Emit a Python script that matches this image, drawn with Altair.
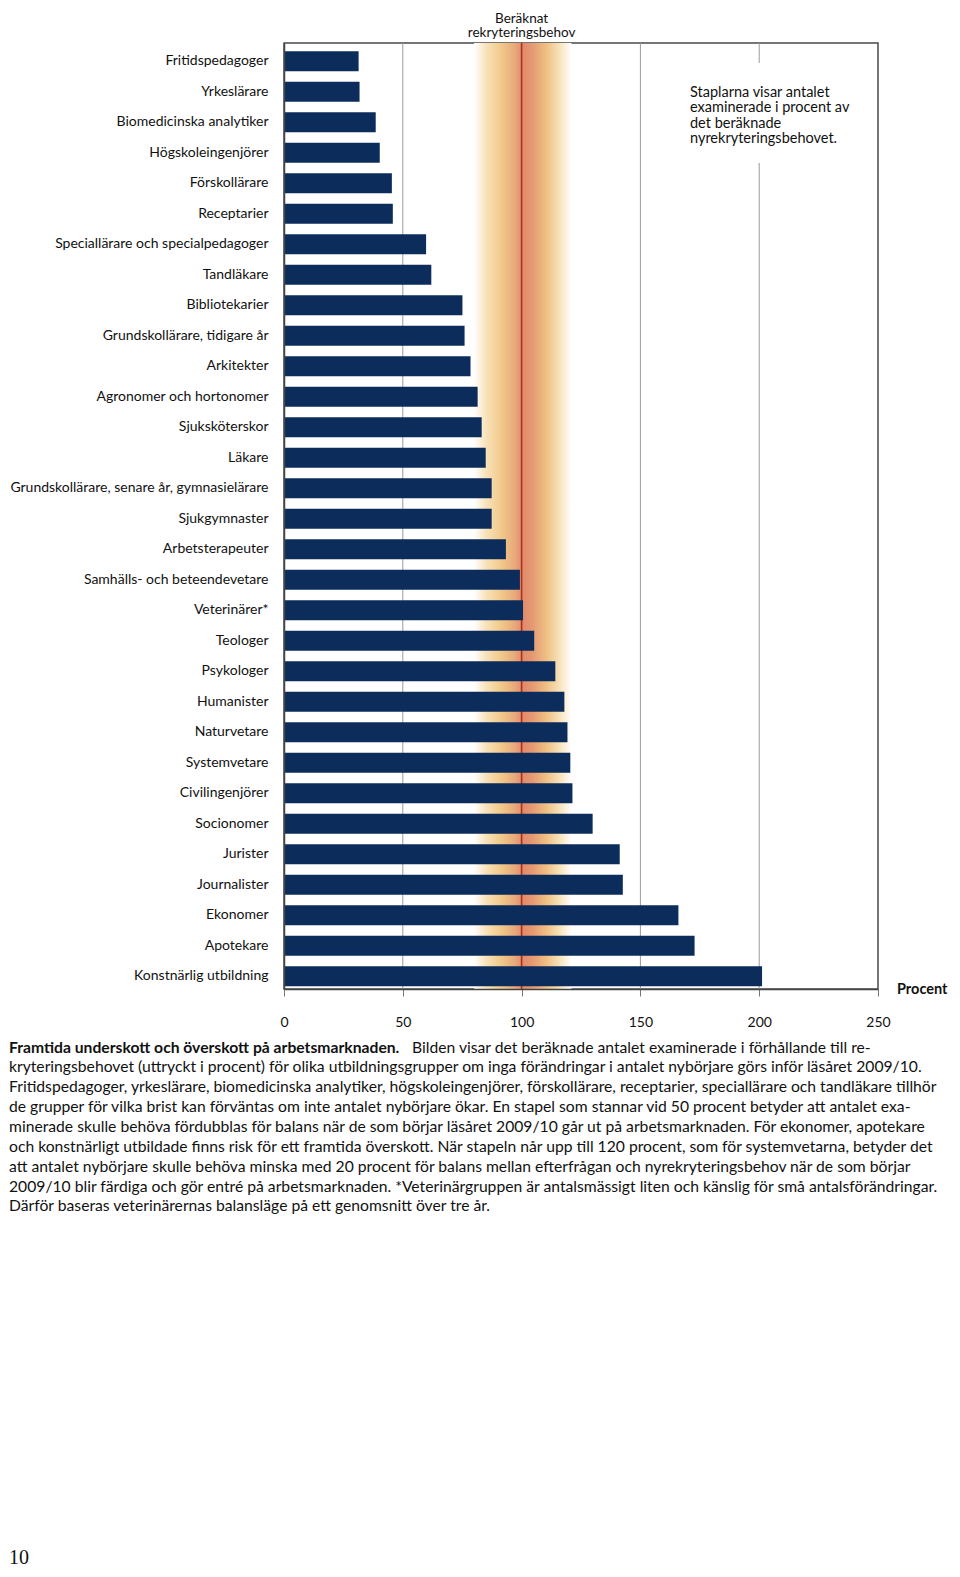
import altair as alt
import pandas as pd

kategorier = [
    "Fritidspedagoger", "Yrkeslärare", "Biomedicinska analytiker", "Högskoleingenjörer",
    "Förskollärare", "Receptarier", "Speciallärare och specialpedagoger", "Tandläkare",
    "Bibliotekarier", "Grundskollärare, tidigare år", "Arkitekter", "Agronomer och hortonomer",
    "Sjuksköterskor", "Läkare", "Grundskollärare, senare år,  gymnasielärare", "Sjukgymnaster",
    "Arbetsterapeuter", "Samhälls- och beteendevetare", "Veterinärer*", "Teologer",
    "Psykologer", "Humanister", "Naturvetare", "Systemvetare", "Civilingenjörer",
    "Socionomer", "Jurister", "Journalister", "Ekonomer", "Apotekare", "Konstnärlig utbildning",
]
procent = [
    31.4, 31.8, 38.6, 40.3, 45.4, 45.8, 59.8, 62.0, 75.1, 76.0, 78.5, 81.5, 83.2, 84.9,
    87.4, 87.4, 93.4, 99.3, 100.6, 105.3, 114.2, 118.0, 119.3, 120.5, 121.4, 129.9,
    141.3, 142.6, 166.0, 172.8, 201.2,
]
x_ticks = [0, 50, 100, 150, 200, 250]
stodlinjer = [50, 150, 200]
behov = [100]
band_fran = [80]
band_till = [121]

rubrik = ["Beräknat", "rekryteringsbehov"]
notis = ["Staplarna visar antalet", "examinerade i procent av", "det beräknade", "nyrekryteringsbehovet."]
enhet = "Procent"
bildtext_fet = "Framtida underskott och överskott på arbetsmarknaden."
bildtext_rad1 = "Bilden visar det beräknade antalet examinerade i förhållande till re-"
bildtext = [
    "kryteringsbehovet (uttryckt i procent) för olika utbildningsgrupper om inga förändringar i antalet nybörjare görs inför läsåret 2009/10.",
    "Fritidspedagoger, yrkeslärare, biomedicinska analytiker, högskoleingenjörer, förskollärare, receptarier, speciallärare och tandläkare tillhör",
    "de grupper för vilka brist kan förväntas om inte antalet nybörjare ökar. En stapel som stannar vid 50 procent betyder att antalet exa-",
    "minerade skulle behöva fördubblas för balans när de som börjar läsåret 2009/10 går ut på arbetsmarknaden. För ekonomer, apotekare",
    "och konstnärligt utbildade finns risk för ett framtida överskott. När stapeln når upp till 120 procent, som för systemvetarna, betyder det",
    "att antalet nybörjare skulle behöva minska med 20 procent för balans mellan efterfrågan och nyrekryteringsbehov när de som börjar",
    "2009/10 blir färdiga och gör entré på arbetsmarknaden. *Veterinärgruppen är antalsmässigt liten och känslig för små antalsförändringar.",
    "Därför baseras veterinärernas balansläge på ett genomsnitt över tre år.",
]
sidnummer = "10"

FONT = "Lato"
W, H = 594, 946
df = pd.DataFrame({"kategori": kategorier, "procent": procent})
dummy = pd.DataFrame({"d": [0]})

x_scale = alt.Scale(domain=[0, 250], nice=False, zero=True)
x_axis = alt.Axis(values=x_ticks, title=None, grid=False, labelFont=FONT, labelFontSize=14,
                  labelColor="#111111", labelPadding=19, tickSize=7, tickColor="#777777",
                  domainColor="#444444", domainWidth=1.5, zindex=1, labelFlush=False)
y_axis = alt.Axis(title=None, labelFont=FONT, labelFontSize=14, labelColor="#111111",
                  labelPadding=16, ticks=False, domainColor="#444444", domainWidth=1.5,
                  zindex=1, labelLimit=400)

gradient = alt.Gradient(
    gradient="linear", x1=0, x2=1, y1=0, y2=0,
    stops=[
        alt.GradientStop(color="#ffffff", offset=0.0),
        alt.GradientStop(color="#f8e3bb", offset=0.12),
        alt.GradientStop(color="#f1cb8c", offset=0.27),
        alt.GradientStop(color="#e8a97a", offset=0.42),
        alt.GradientStop(color="#e28a6c", offset=0.5),
        alt.GradientStop(color="#e59a72", offset=0.6),
        alt.GradientStop(color="#efc286", offset=0.75),
        alt.GradientStop(color="#f8e3bb", offset=0.88),
        alt.GradientStop(color="#ffffff", offset=1.0),
    ],
)

glow = alt.Chart(pd.DataFrame({"fran": band_fran, "till": band_till})).mark_rect(color=gradient).encode(
    x=alt.X("fran:Q", scale=x_scale, axis=x_axis), x2="till:Q"
)
grid = alt.Chart(pd.DataFrame({"v": stodlinjer})).mark_rule(color="#9a9a9a", strokeWidth=1).encode(
    x=alt.X("v:Q", scale=x_scale, axis=x_axis)
)
red = alt.Chart(pd.DataFrame({"v": behov})).mark_rule(color="#a8321f", strokeWidth=1.6).encode(
    x=alt.X("v:Q", scale=x_scale, axis=x_axis)
)
whitebox = alt.Chart(dummy).mark_rect(color="#ffffff").encode(
    x=alt.value(395), x2=alt.value(575), y=alt.value(20), y2=alt.value(120)
)
note = alt.Chart(dummy).mark_text(
    text=notis, font=FONT, fontSize=14.5, color="#111111", align="left",
    baseline="alphabetic", lineHeight=15.3
).encode(x=alt.value(406), y=alt.value(54))

bars = alt.Chart(df).mark_bar(color="#0c2d5c").encode(
    x=alt.X("procent:Q", scale=x_scale, axis=x_axis),
    y=alt.Y("kategori:N", sort=None, axis=y_axis,
            scale=alt.Scale(paddingInner=0.344, paddingOuter=0.18, align=0.74)),
)

title = alt.Chart(dummy).mark_text(
    text=rubrik, font=FONT, fontSize=13.5, color="#111111", align="center",
    baseline="alphabetic", lineHeight=14.5
).encode(x=alt.datum(100, scale=x_scale), y=alt.value(-20.3))

unit = alt.Chart(dummy).mark_text(
    text=enhet, font=FONT, fontSize=14.5, fontWeight="bold", color="#111111",
    align="left", baseline="middle"
).encode(x=alt.value(613), y=alt.value(947))

cap_bold = alt.Chart(dummy).mark_text(
    text=bildtext_fet, font=FONT, fontSize=15.7, fontWeight="bold", color="#111111",
    align="left", baseline="alphabetic"
).encode(x=alt.value(-275), y=alt.value(1009.5))
cap_first = alt.Chart(dummy).mark_text(
    text=bildtext_rad1, font=FONT, fontSize=15.7, color="#111111",
    align="left", baseline="alphabetic"
).encode(x=alt.value(128), y=alt.value(1009.5))
cap_rest = alt.Chart(dummy).mark_text(
    text=bildtext, font=FONT, fontSize=15.7, color="#111111",
    align="left", baseline="alphabetic", lineHeight=19.86
).encode(x=alt.value(-275), y=alt.value(1029.4))

page = alt.Chart(dummy).mark_text(
    text=sidnummer, font="Liberation Serif", fontSize=20, color="#111111",
    align="left", baseline="alphabetic"
).encode(x=alt.value(-275), y=alt.value(1520.5))

chart = alt.layer(
    glow, grid, red, whitebox, note, bars, title, unit, cap_bold, cap_first, cap_rest, page
).properties(
    width=W, height=H,
    autosize=alt.AutoSizeParams(type="none"),
    padding={"left": 276, "top": 35, "right": 74, "bottom": 580},
).configure_view(stroke="#4a4a4a", strokeWidth=1.5)

chart.save("out.html", embed_options={"renderer": "svg", "actions": False})
